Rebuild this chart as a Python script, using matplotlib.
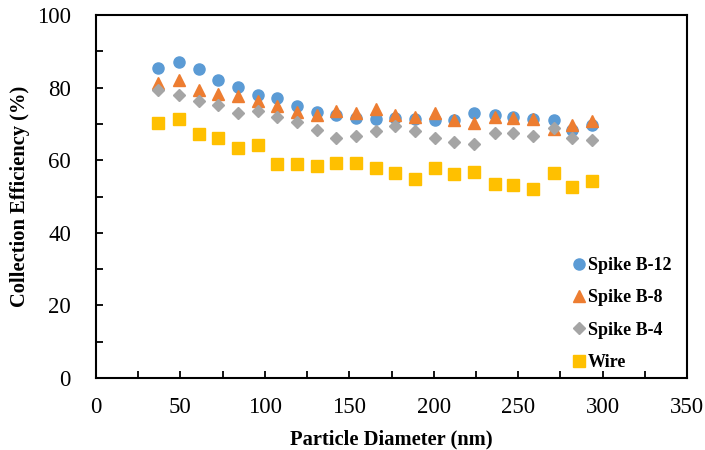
import matplotlib.pyplot as plt
from matplotlib.ticker import MultipleLocator

# particle diameter (nm)
diameter = [37, 49, 61, 72, 84, 96, 107, 119, 131, 142, 154, 166,
            177, 189, 201, 212, 224, 236, 247, 259, 271, 282, 294]

spike_b12 = [85.3, 87.1, 85.1, 82.1, 80.3, 78.0, 77.0, 75.0, 73.4, 72.5, 71.5, 71.3,
             71.5, 71.3, 71.1, 71.1, 73.1, 72.5, 72.0, 71.3, 71.1, 68.3, 69.7]
spike_b8 = [81.2, 82.1, 79.3, 78.2, 77.7, 76.3, 74.9, 73.4, 72.5, 73.6, 72.9, 74.0,
            72.5, 72.0, 72.9, 71.1, 70.3, 71.8, 71.5, 71.3, 68.5, 69.7, 70.9]
spike_b4 = [79.3, 78.0, 76.4, 75.2, 73.1, 73.6, 72.0, 70.4, 68.3, 66.2, 66.8, 68.1,
            69.4, 68.1, 66.2, 64.9, 64.5, 67.4, 67.4, 66.7, 68.8, 66.2, 65.7]
wire = [70.2, 71.3, 67.1, 66.0, 63.4, 64.1, 59.0, 58.9, 58.4, 59.1, 59.1, 57.8,
        56.4, 54.7, 57.8, 56.2, 56.8, 53.4, 53.2, 52.0, 56.6, 52.7, 54.4]

plt.rcParams['font.family'] = ['Liberation Serif', 'DejaVu Serif']

fig = plt.figure(figsize=(7.05, 4.5), dpi=100)
ax = fig.add_axes([96 / 705, 72 / 450, 591 / 705, 363 / 450])

ax.plot(diameter, spike_b12, 'o', ms=8, color='#5B9BD5', label='Spike B-12')
ax.plot(diameter, spike_b8, '^', ms=8, color='#ED7D31', label='Spike B-8')
ax.plot(diameter, spike_b4, 'D', ms=5.8, color='#A5A5A5', label='Spike B-4')
ax.plot(diameter, wire, 's', ms=8, color='#FFC000', label='Wire')

ax.set_xlim(0, 350)
ax.set_ylim(0, 100)
ax.xaxis.set_major_locator(MultipleLocator(50))
ax.xaxis.set_minor_locator(MultipleLocator(25))
ax.yaxis.set_major_locator(MultipleLocator(20))
ax.yaxis.set_minor_locator(MultipleLocator(10))
ax.tick_params(which='both', direction='in', labelsize=16.5, width=1.3, length=5)
ax.tick_params(axis='x', pad=14)
ax.tick_params(axis='y', pad=18)
for s in ax.spines.values():
    s.set_linewidth(1.5)

ax.set_xlabel('Particle Diameter (nm)', fontsize=14.8, fontweight='bold', labelpad=8)
ax.set_ylabel('Collection Efficiency (%)', fontsize=14.8, fontweight='bold', labelpad=5)

ax.legend(loc='center left', bbox_to_anchor=(0.785, 0.176), frameon=False,
          prop={'weight': 'bold', 'size': 13}, handlelength=0.7,
          handletextpad=0.15, labelspacing=0.85, borderpad=0.2)

fig.savefig('out.png', dpi=100)
